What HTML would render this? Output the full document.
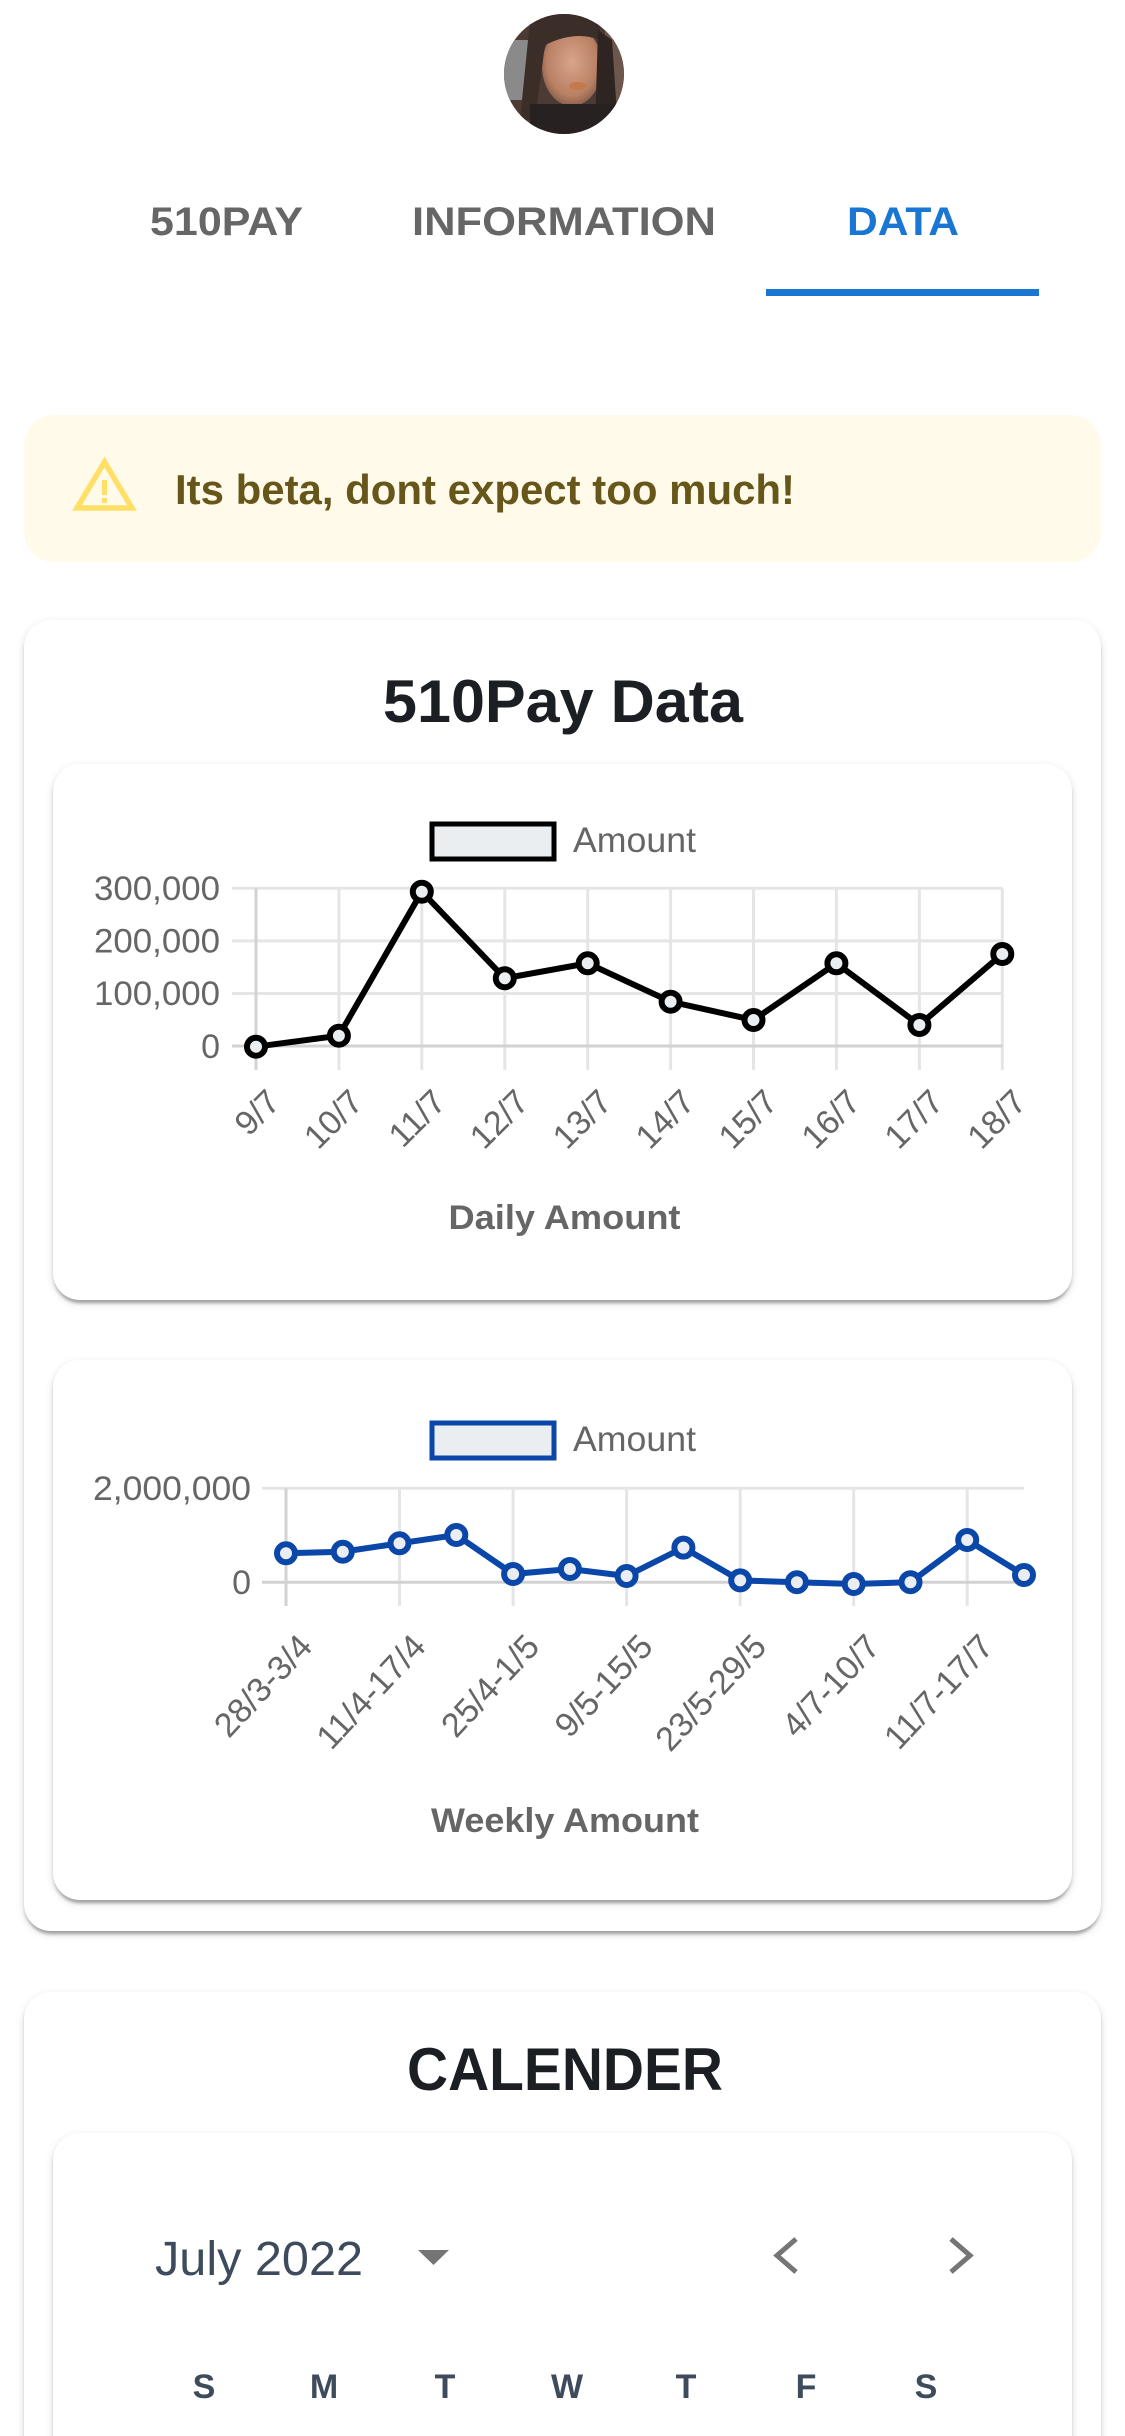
<!DOCTYPE html>
<html>
<head>
<meta charset="utf-8">
<style>
  html, body { margin:0; padding:0; background:#ffffff; width:1125px; height:2436px; overflow:hidden; }
  #page { position:relative; width:1125px; height:2436px; overflow:hidden; font-family:"Liberation Sans", Arial, sans-serif; background:#ffffff; }
  .card { position:absolute; background:#ffffff; border-radius:27px;
    box-shadow: 0 6px 3px -3px rgba(0,0,0,0.20), 0 3px 3px 0 rgba(0,0,0,0.14), 0 3px 9px 0 rgba(0,0,0,0.12); }
  .alert { position:absolute; left:24px; top:415px; width:1077px; height:147px; background:#fffaea; border-radius:30px; }
  svg.overlay { position:absolute; left:0; top:0; }
</style>
</head>
<body>
<div id="page">
  <div class="alert"></div>
  <div class="card" style="left:24px;top:620px;width:1077px;height:1311px;"></div>
  <div class="card" style="left:53px;top:764px;width:1019px;height:536px;"></div>
  <div class="card" style="left:53px;top:1360px;width:1019px;height:540px;"></div>
  <div class="card" style="left:24px;top:1992px;width:1077px;height:520px;"></div>
  <div class="card" style="left:53px;top:2133px;width:1019px;height:400px;"></div>

  <svg class="overlay" width="1125" height="2436" viewBox="0 0 1125 2436" xmlns="http://www.w3.org/2000/svg" font-family="Liberation Sans, Arial, sans-serif">
    <defs>
      <clipPath id="av"><circle cx="564" cy="74" r="60"/></clipPath>
      <radialGradient id="face" cx="0.5" cy="0.45" r="0.6">
        <stop offset="0" stop-color="#d9a488"/>
        <stop offset="0.7" stop-color="#b98064"/>
        <stop offset="1" stop-color="#7a5443"/>
      </radialGradient>
    </defs>

    <!-- Avatar -->
    <g clip-path="url(#av)">
      <rect x="500" y="10" width="130" height="130" fill="#4b3b34"/>
      <rect x="500" y="40" width="30" height="60" fill="#8a8a8a"/>
      <rect x="605" y="20" width="25" height="90" fill="#6d564b"/>
      <ellipse cx="572" cy="66" rx="30" ry="40" fill="url(#face)"/>
      <path d="M530 20 Q560 0 600 20 L600 40 Q575 30 545 45 L535 120 L520 120 Z" fill="#3b2d28"/>
      <path d="M598 30 L612 40 L618 130 L595 130 Z" fill="#2e2421"/>
      <rect x="530" y="104" width="90" height="40" fill="#272221"/>
      <ellipse cx="578" cy="86" rx="9" ry="4" fill="#c47a4c"/>
    </g>

    <!-- Tabs -->
    <g font-weight="bold" font-size="40">
      <text x="150" y="235" fill="#666666" textLength="153" lengthAdjust="spacingAndGlyphs">510PAY</text>
      <text x="412" y="235" fill="#666666" textLength="304" lengthAdjust="spacingAndGlyphs">INFORMATION</text>
      <text x="847" y="235" fill="#1976d2" textLength="112" lengthAdjust="spacingAndGlyphs">DATA</text>
    </g>
    <rect x="766" y="289" width="273" height="7" fill="#1976d2"/>

    <!-- Alert -->
    <polygon points="104.5,462 77,508 132,508" fill="none" stroke="#ffdf66" stroke-width="5.5" stroke-linejoin="miter"/>
    <rect x="102" y="480" width="5" height="15" fill="#ffdf66"/>
    <rect x="102" y="498" width="5" height="5" fill="#ffdf66"/>
    <text x="175" y="504" font-size="42" font-weight="bold" fill="#665619" textLength="620" lengthAdjust="spacingAndGlyphs">Its beta, dont expect too much!</text>

    <!-- Title 1 -->
    <text x="563" y="722" font-size="60" font-weight="bold" fill="#1b1f24" text-anchor="middle" textLength="360" lengthAdjust="spacingAndGlyphs">510Pay Data</text>

    <!-- ===== Chart 1 ===== -->
    <rect x="432" y="824" width="122" height="35" fill="#ebeef0" stroke="#000000" stroke-width="5"/>
    <text x="573" y="852" font-size="35" fill="#666666" textLength="123" lengthAdjust="spacingAndGlyphs">Amount</text>

    <g stroke="#e5e5e5" stroke-width="3">
      <line x1="232" y1="888.3" x2="1002.3" y2="888.3"/>
      <line x1="232" y1="940.9" x2="1002.3" y2="940.9"/>
      <line x1="232" y1="993.5" x2="1002.3" y2="993.5"/>
      <line x1="338.9" y1="888.3" x2="338.9" y2="1070"/>
      <line x1="421.8" y1="888.3" x2="421.8" y2="1070"/>
      <line x1="504.8" y1="888.3" x2="504.8" y2="1070"/>
      <line x1="587.7" y1="888.3" x2="587.7" y2="1070"/>
      <line x1="670.6" y1="888.3" x2="670.6" y2="1070"/>
      <line x1="753.5" y1="888.3" x2="753.5" y2="1070"/>
      <line x1="836.4" y1="888.3" x2="836.4" y2="1070"/>
      <line x1="919.4" y1="888.3" x2="919.4" y2="1070"/>
      <line x1="1002.3" y1="888.3" x2="1002.3" y2="1070"/>
    </g>
    <g stroke="#d2d2d2" stroke-width="3">
      <line x1="232" y1="1046" x2="1002.3" y2="1046"/>
      <line x1="256" y1="888.3" x2="256" y2="1070"/>
    </g>
    <g font-size="34" fill="#666666" text-anchor="end">
      <text x="220" y="900" textLength="126" lengthAdjust="spacingAndGlyphs">300,000</text>
      <text x="220" y="952.6" textLength="126" lengthAdjust="spacingAndGlyphs">200,000</text>
      <text x="220" y="1005.2" textLength="126" lengthAdjust="spacingAndGlyphs">100,000</text>
      <text x="220" y="1058">0</text>
    </g>
    <polyline fill="none" stroke="#000000" stroke-width="6" stroke-linejoin="miter"
      points="256,1046.7 338.9,1035.7 421.8,891.7 504.8,978.3 587.7,963.3 670.6,1001.7 753.5,1020 836.4,963.3 919.4,1025 1002.3,954"/>
    <g fill="#ebeef0" stroke="#000000" stroke-width="6">
      <circle cx="256" cy="1046.7" r="9"/>
      <circle cx="338.9" cy="1035.7" r="9"/>
      <circle cx="421.8" cy="891.7" r="9"/>
      <circle cx="504.8" cy="978.3" r="9"/>
      <circle cx="587.7" cy="963.3" r="9"/>
      <circle cx="670.6" cy="1001.7" r="9"/>
      <circle cx="753.5" cy="1020" r="9"/>
      <circle cx="836.4" cy="963.3" r="9"/>
      <circle cx="919.4" cy="1025" r="9"/>
      <circle cx="1002.3" cy="954" r="9"/>
    </g>
    <g font-size="34" fill="#666666" text-anchor="end">
      <text transform="translate(282,1104) rotate(-45)">9/7</text>
      <text transform="translate(364.9,1104) rotate(-45)">10/7</text>
      <text transform="translate(447.8,1104) rotate(-45)">11/7</text>
      <text transform="translate(530.8,1104) rotate(-45)">12/7</text>
      <text transform="translate(613.7,1104) rotate(-45)">13/7</text>
      <text transform="translate(696.6,1104) rotate(-45)">14/7</text>
      <text transform="translate(779.5,1104) rotate(-45)">15/7</text>
      <text transform="translate(862.4,1104) rotate(-45)">16/7</text>
      <text transform="translate(945.4,1104) rotate(-45)">17/7</text>
      <text transform="translate(1028.3,1104) rotate(-45)">18/7</text>
    </g>
    <text x="564.5" y="1229" font-size="34" font-weight="bold" fill="#666666" text-anchor="middle" textLength="232" lengthAdjust="spacingAndGlyphs">Daily Amount</text>

    <!-- ===== Chart 2 ===== -->
    <rect x="432" y="1423" width="122" height="35" fill="#ebeef0" stroke="#0a47a9" stroke-width="5"/>
    <text x="573" y="1451" font-size="35" fill="#666666" textLength="123" lengthAdjust="spacingAndGlyphs">Amount</text>

    <g stroke="#e5e5e5" stroke-width="3">
      <line x1="262" y1="1488.3" x2="1024" y2="1488.3"/>
      <line x1="399.5" y1="1488.3" x2="399.5" y2="1606"/>
      <line x1="513.1" y1="1488.3" x2="513.1" y2="1606"/>
      <line x1="626.6" y1="1488.3" x2="626.6" y2="1606"/>
      <line x1="740.2" y1="1488.3" x2="740.2" y2="1606"/>
      <line x1="853.7" y1="1488.3" x2="853.7" y2="1606"/>
      <line x1="967.2" y1="1488.3" x2="967.2" y2="1606"/>
    </g>
    <g stroke="#d2d2d2" stroke-width="3">
      <line x1="262" y1="1582.3" x2="1024" y2="1582.3"/>
      <line x1="286" y1="1488.3" x2="286" y2="1606"/>
    </g>
    <g font-size="34" fill="#666666" text-anchor="end">
      <text x="251" y="1500" textLength="158" lengthAdjust="spacingAndGlyphs">2,000,000</text>
      <text x="251" y="1594">0</text>
    </g>
    <polyline fill="none" stroke="#0a47a9" stroke-width="6" stroke-linejoin="miter"
      points="286,1553.3 342.8,1551.7 399.5,1543.3 456.3,1535 513.1,1574 569.9,1569 626.6,1576 683.4,1547.6 740.2,1580.4 796.9,1582.2 853.7,1584 910.5,1582.2 967.2,1540 1024,1575"/>
    <g fill="#ebeef0" stroke="#0a47a9" stroke-width="6">
      <circle cx="286" cy="1553.3" r="9"/>
      <circle cx="342.8" cy="1551.7" r="9"/>
      <circle cx="399.5" cy="1543.3" r="9"/>
      <circle cx="456.3" cy="1535" r="9"/>
      <circle cx="513.1" cy="1574" r="9"/>
      <circle cx="569.9" cy="1569" r="9"/>
      <circle cx="626.6" cy="1576" r="9"/>
      <circle cx="683.4" cy="1547.6" r="9"/>
      <circle cx="740.2" cy="1580.4" r="9"/>
      <circle cx="796.9" cy="1582.2" r="9"/>
      <circle cx="853.7" cy="1584" r="9"/>
      <circle cx="910.5" cy="1582.2" r="9"/>
      <circle cx="967.2" cy="1540" r="9"/>
      <circle cx="1024" cy="1575" r="9"/>
    </g>
    <g font-size="34" fill="#666666" text-anchor="end">
      <text transform="translate(314,1648) rotate(-47)">28/3-3/4</text>
      <text transform="translate(427.5,1648) rotate(-47)">11/4-17/4</text>
      <text transform="translate(541.1,1648) rotate(-47)">25/4-1/5</text>
      <text transform="translate(654.6,1648) rotate(-47)">9/5-15/5</text>
      <text transform="translate(768.2,1648) rotate(-47)">23/5-29/5</text>
      <text transform="translate(881.7,1648) rotate(-47)">4/7-10/7</text>
      <text transform="translate(995.2,1648) rotate(-47)">11/7-17/7</text>
    </g>
    <text x="565" y="1832" font-size="34" font-weight="bold" fill="#666666" text-anchor="middle" textLength="268" lengthAdjust="spacingAndGlyphs">Weekly Amount</text>

    <!-- ===== Calendar ===== -->
    <text x="565" y="2090" font-size="60" font-weight="bold" fill="#1b1f24" text-anchor="middle" textLength="316" lengthAdjust="spacingAndGlyphs">CALENDER</text>
    <text x="155" y="2275" font-size="48" fill="#3d4b5c" textLength="208" lengthAdjust="spacingAndGlyphs">July 2022</text>
    <polygon points="418,2250 449,2250 433.5,2265" fill="#757575"/>
    <polyline points="796,2239 777,2255.5 796,2272" fill="none" stroke="#757575" stroke-width="5"/>
    <polyline points="951,2239 970,2255.5 951,2272" fill="none" stroke="#757575" stroke-width="5"/>
    <g font-size="34" font-weight="bold" fill="#3d4b5c" text-anchor="middle">
      <text x="204" y="2398">S</text>
      <text x="324" y="2398">M</text>
      <text x="445" y="2398">T</text>
      <text x="567" y="2398">W</text>
      <text x="686" y="2398">T</text>
      <text x="806" y="2398">F</text>
      <text x="926" y="2398">S</text>
    </g>
  </svg>
</div>
</body>
</html>
